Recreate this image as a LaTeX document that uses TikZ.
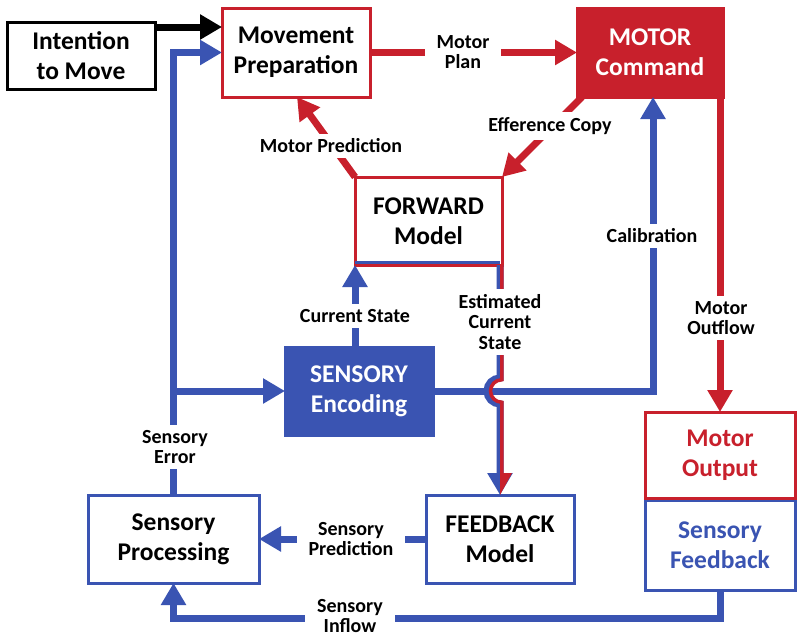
\documentclass[tikz,border=0pt]{standalone}
\usepackage{fontspec}
\setmainfont{Carlito}
\usetikzlibrary{arrows.meta,calc}
\definecolor{cred}{RGB}{200,32,44}
\definecolor{cblue}{RGB}{58,84,178}
\newcommand\bxfont{\fontsize{25.5}{30}\selectfont\bfseries}
\newcommand\lbfont{\fontsize{20}{20.5}\selectfont\bfseries}
\begin{document}
\begin{tikzpicture}[x=1pt,y=-1pt,
  box/.style={draw, line width=3pt, outer sep=0pt, inner sep=0pt, align=center, font=\bxfont, minimum width=#1},
  arr/.style={line width=7pt, -{Triangle[length=22pt,width=24pt]}},
  rd/.style={arr, draw=cred},
  bl/.style={arr, draw=cblue},
  bk/.style={arr, draw=black},
  lab/.style={fill=white, align=center, font=\lbfont, inner xsep=#1, inner ysep=5pt},
  lab/.default=5pt]
\fill[white] (0,0) rectangle (800,638);
\useasboundingbox (0,0) rectangle (800,638);

% boxes
\node[box=148pt, minimum height=67pt, draw=black] (intent) at (81,55.5) {Intention\\to Move};
\node[box=148pt, minimum height=89pt, draw=cred] (prep) at (296,52.5) {Movement\\Preparation};
\node[box=146pt, minimum height=89pt, draw=cred, fill=cred, text=white] (motor) at (650,52.5) {MOTOR\\Command};
\node[box=147pt, minimum height=88pt, draw=cred] (forward) at (428.5,221) {FORWARD\\Model};
\node[box=148pt, minimum height=88pt, draw=cblue, fill=cblue, text=white] (sensory) at (359,391) {SENSORY\\Encoding};
\node[box=150pt, minimum height=90pt, draw=cblue, text=cblue] (sfeed) at (720,545) {Sensory\\Feedback};
\node[box=150pt, minimum height=86pt, draw=cred, text=cred] (moutput) at (720,455) {Motor\\Output};
\node[box=171pt, minimum height=88pt, draw=cblue] (sproc) at (173.5,539) {Sensory\\Processing};
\node[box=148pt, minimum height=88pt, draw=cblue] (feedback) at (500,539) {FEEDBACK\\Model};

% coordinates
\coordinate (i1) at ([yshift=-5pt]intent.north east);
\coordinate (cal) at ([xshift=3pt]motor.south);
\coordinate (e1) at ([xshift=-2pt]forward.south east);
\coordinate (e2) at (e1 |- feedback.north);
\coordinate (eh) at (e1 |- sensory.east);

% connectors
\draw[bk] (i1) -- (i1 -| prep.west);
\draw[bl] (sproc.north) |- (prep.west);
\draw[bl] (sproc.north |- sensory.west) -- (sensory.west);
\draw[rd] (prep.east) -- (motor.west);
\draw[rd] ([xshift=5pt]motor.south west) -- (forward.north east);
\draw[rd] (forward.north west) -- ([xshift=1pt]prep.south);
\draw[bl] (forward.south west |- sensory.north) -- (forward.south west);
\draw[bl] (sensory.east) -| (cal);
\draw[rd] ([xshift=-3pt]motor.south east) -- (moutput.north);
\draw[bl] (sfeed.south) -- ++(0,28) -| (sproc.south);
\draw[bl] (feedback.west) -- (sproc.east);

% forward model bottom edge in blue
\draw[cblue, line width=3pt] ([yshift=2.5pt]forward.south west) -- ([yshift=2.5pt]e1);

% estimated current state (double red/blue with hop)
\draw[bl] (e1) -- ($(eh)+(0,-13)$) arc[start angle=-90,end angle=-270,radius=13] -- (e2);
\draw[cred, line width=3.5pt] ($(e1)+(1.75,0)$) -- ($(eh)+(1.75,-11.25)$) arc[start angle=-90,end angle=-270,radius=11.25] -- ($(e2)+(1.75,-22)$);
\fill[cred] (e2) -- ++(12,-22) -- ++(-12,0) -- cycle;

% labels
\node[lab=12pt] (lplan) at (463,52) {Motor\\Plan};
\node[lab] (lpred) at (331,146) {Motor Prediction};
\node[lab] (leff) at (550,126) {Efference Copy};
\node[lab] (lcur) at (355,316) {Current State};
\node[lab] (lest) at (500,322) {Estimated\\Current\\State};
\node[lab] (lcal) at (652,236) {Calibration};
\node[lab] (lout) at (721,318) {Motor\\Outflow};
\node[lab] (lerr) at (175,447) {Sensory\\Error};
\node[lab=12pt] (lspred) at (351,539) {Sensory\\Prediction};
\node[lab=12pt] (lin) at (350,616) {Sensory\\Inflow};
\end{tikzpicture}
\end{document}
